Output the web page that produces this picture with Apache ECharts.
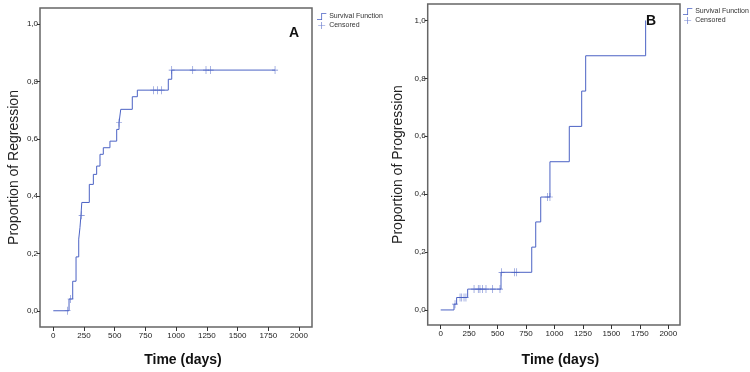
<!DOCTYPE html>
<html>
<head>
<meta charset="utf-8">
<script src="https://cdn.jsdelivr.net/npm/echarts@6/dist/echarts.min.js"></script>
<style>
  body { margin: 0; background: #fff; }
  #main { width: 750px; height: 372px; }
</style>
</head>
<body>
<div id="main"></div>
<script>
// Panel A - regression (time of step, value after step)
var aDays = [0, 128, 158, 185, 207, 217, 225, 232, 293, 326, 353, 380, 407, 461, 516, 535, 549, 643, 684, 936, 964, 1805];
var aVals = [0, 0.041, 0.103, 0.188, 0.25, 0.29, 0.333, 0.378, 0.441, 0.476, 0.505, 0.546, 0.569, 0.592, 0.633, 0.656, 0.703, 0.747, 0.770, 0.808, 0.84, 0.84];
var aCensDays = [117, 141, 231, 535, 814, 847, 882, 964, 1135, 1243, 1281, 1805];
var aCensVals = [0, 0.041, 0.333, 0.656, 0.770, 0.770, 0.770, 0.84, 0.84, 0.84, 0.84, 0.84];

// Panel B - progression
var bDays = [0, 117, 140, 237, 530, 800, 835, 879, 960, 1130, 1239, 1274, 1801];
var bVals = [0, 0.02, 0.043, 0.072, 0.13, 0.217, 0.304, 0.39, 0.512, 0.634, 0.756, 0.878, 1.0];
var bCensDays = [126, 170, 185, 205, 222, 293, 330, 345, 369, 398, 457, 521, 535, 647, 668, 940, 960];
var bCensVals = [0.02, 0.043, 0.043, 0.043, 0.043, 0.072, 0.072, 0.072, 0.072, 0.072, 0.072, 0.072, 0.13, 0.13, 0.13, 0.39, 0.39];

var xTicks = [0, 250, 500, 750, 1000, 1250, 1500, 1750, 2000];
var yTicks = [0, 0.2, 0.4, 0.6, 0.8, 1.0];
var panelLabels = ['A', 'B'];
var yNames = ['Proportion of Regression', 'Proportion of Progression'];
var xName = 'Time (days)';
var legendNames = ['Survival Function', 'Censored'];

var blue = '#4b62c4';
var sans = '"Liberation Sans", Arial, sans-serif';
var plus = 'path://M0,4.6H10V5.4H0ZM4.5,0H5.5V10H4.5Z';
var stepIcon = 'path://M0,9H5.5V1H12V2H6.5V10H0Z';

function pairs(xs, ys) {
    var out = [];
    for (var i = 0; i < xs.length; i++) {
        out.push([xs[i], ys[i]]);
    }
    return out;
}

// the frame is wider than the 0..2000 / 0..1 range, so ticks are placed by hand values
function xAx(grid, min, max, gap, nameShift) {
    return {
        type: 'value', gridIndex: grid, min: min, max: max,
        axisLine: { show: false, onZero: false },
        axisTick: { show: true, length: 4, customValues: xTicks, lineStyle: { color: '#333' } },
        splitLine: { show: false },
        axisLabel: {
            customValues: xTicks, fontFamily: sans, fontSize: 8, color: '#222', margin: 5,
            formatter: function (v) { return String(v); }
        },
        name: xName, nameLocation: 'middle', nameGap: gap,
        nameTextStyle: { fontFamily: sans, fontWeight: 'bold', fontSize: 14, color: '#111', padding: [0, 0, 0, nameShift] }
    };
}

function yAx(grid, min, max, name, gap) {
    return {
        type: 'value', gridIndex: grid, min: min, max: max,
        axisLine: { show: false, onZero: false },
        axisTick: { show: true, length: 3, customValues: yTicks, lineStyle: { color: '#333' } },
        splitLine: { show: false },
        axisLabel: {
            customValues: yTicks, fontFamily: sans, fontSize: 8, color: '#222', margin: 2,
            formatter: function (v) { return v.toFixed(1).replace('.', ','); }
        },
        name: name, nameLocation: 'middle', nameGap: gap,
        nameTextStyle: { fontFamily: sans, fontSize: 14, color: '#222' }
    };
}

function legendAt(left, top) {
    return {
        left: left, top: top, orient: 'vertical', padding: 0, itemGap: 2,
        itemWidth: 11, itemHeight: 7, selectedMode: false,
        textStyle: { fontFamily: sans, fontSize: 7, color: '#333', padding: [0, 0, 0, -3] },
        data: [{ name: legendNames[0], icon: stepIcon }, { name: legendNames[1], icon: plus }]
    };
}

var chart = echarts.init(document.getElementById('main'));
var option = {
    animation: false,
    title: [
        { text: panelLabels[0], left: 289, top: 26, padding: 0, textStyle: { fontFamily: sans, fontSize: 14, fontWeight: 'bold', color: '#111' } },
        { text: panelLabels[1], left: 646, top: 14, padding: 0, textStyle: { fontFamily: sans, fontSize: 14, fontWeight: 'bold', color: '#111' } }
    ],
    legend: [legendAt(317, 13), legendAt(683, 8)],
    grid: [
        { left: 40, top: 8, width: 272, height: 320, show: true, borderColor: '#666', borderWidth: 1.5, backgroundColor: 'transparent' },
        { left: 427.7, top: 4, width: 252.3, height: 326, show: true, borderColor: '#666', borderWidth: 1.5, backgroundColor: 'transparent' }
    ],
    xAxis: [xAx(0, -108.3, 2105.8, 26, 14), xAx(1, -114.2, 2102.8, 28, 13)],
    yAxis: [yAx(0, -0.0567, 1.0567, yNames[0], 19), yAx(1, -0.052, 1.0568, yNames[1], 23)],
    series: [
        {
            name: legendNames[0], type: 'line', step: 'end', xAxisIndex: 0, yAxisIndex: 0,
            data: pairs(aDays, aVals), showSymbol: false,
            lineStyle: { color: blue, width: 1 }, itemStyle: { color: blue }
        },
        {
            name: legendNames[1], type: 'scatter', xAxisIndex: 0, yAxisIndex: 0,
            data: pairs(aCensDays, aCensVals), symbol: plus, symbolSize: [6, 8],
            itemStyle: { color: blue }
        },
        {
            name: legendNames[0], type: 'line', step: 'end', xAxisIndex: 1, yAxisIndex: 1,
            data: pairs(bDays, bVals), showSymbol: false,
            lineStyle: { color: blue, width: 1 }, itemStyle: { color: blue }
        },
        {
            name: legendNames[1], type: 'scatter', xAxisIndex: 1, yAxisIndex: 1,
            data: pairs(bCensDays, bCensVals), symbol: plus, symbolSize: [6, 8],
            itemStyle: { color: blue }
        }
    ]
};
chart.setOption(option);
</script>
</body>
</html>
